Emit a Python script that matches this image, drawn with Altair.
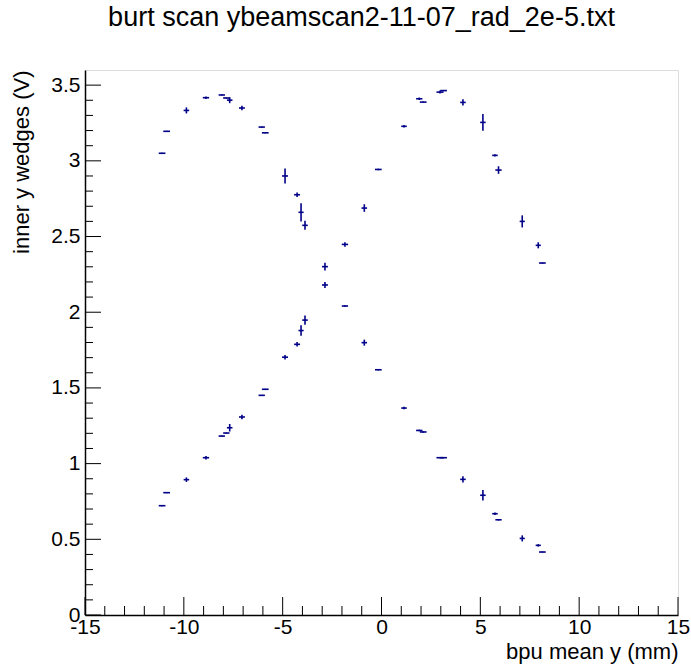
import altair as alt
import pandas as pd

# beam position (mm) shared by both wedge series
x_mm = [-11.10, -10.87, -9.87, -8.88, -8.08, -7.85, -7.68, -7.06, -6.06, -5.88,
        -4.88, -4.27, -4.07, -3.87, -2.86, -1.85, -0.87, -0.16, 1.14, 1.91,
        2.11, 2.96, 3.14, 4.12, 5.13, 5.74, 5.92, 7.12, 7.93, 8.14]
x_err = [0.17, 0.17, 0.14, 0.16, 0.16, 0.16, 0.14, 0.15, 0.16, 0.17,
         0.15, 0.15, 0.13, 0.14, 0.15, 0.16, 0.14, 0.17, 0.14, 0.16,
         0.17, 0.18, 0.17, 0.14, 0.14, 0.14, 0.16, 0.13, 0.13, 0.17]

# wedge voltage falling with position (upper left -> lower right)
falling_v = [3.050, 3.195, 3.333, 3.417, 3.435, 3.415, 3.401, 3.349, 3.223, 3.185,
             2.900, 2.776, 2.660, 2.574, 2.180, 2.041, 1.799, 1.620, 1.367, 1.219,
             1.209, 1.039, 1.039, 0.896, 0.791, 0.669, 0.629, 0.506, 0.460, 0.416]
falling_err = [0.003, 0.003, 0.020, 0.008, 0.003, 0.003, 0.020, 0.015, 0.003, 0.003,
               0.050, 0.015, 0.060, 0.030, 0.020, 0.005, 0.020, 0.005, 0.008, 0.005,
               0.005, 0.003, 0.003, 0.020, 0.035, 0.008, 0.005, 0.020, 0.008, 0.003]

# wedge voltage rising with position (lower left -> upper right)
rising_v = [0.722, 0.808, 0.894, 1.039, 1.182, 1.202, 1.237, 1.308, 1.451, 1.491,
            1.703, 1.788, 1.879, 1.948, 2.301, 2.448, 2.688, 2.943, 3.228, 3.410,
            3.388, 3.454, 3.464, 3.386, 3.254, 3.036, 2.939, 2.600, 2.442, 2.325]
rising_err = [0.003, 0.003, 0.015, 0.012, 0.003, 0.003, 0.025, 0.015, 0.003, 0.003,
              0.015, 0.015, 0.035, 0.030, 0.025, 0.015, 0.025, 0.005, 0.008, 0.008,
              0.003, 0.010, 0.003, 0.020, 0.055, 0.008, 0.025, 0.040, 0.020, 0.003]

x_major = [-15, -10, -5, 0, 5, 10, 15]
x_minor = [v for v in range(-14, 15) if v % 5 != 0]
y_major = [0, 0.5, 1, 1.5, 2, 2.5, 3, 3.5]
y_minor = [round(i * 0.1, 1) for i in range(1, 36) if i % 5 != 0]

W, H = 593, 545
COLOR = "#000088"
FONT = "Liberation Sans"

rows = []
for name, vals, errs in (("falling", falling_v, falling_err), ("rising", rising_v, rising_err)):
    for x, xe, y, ye in zip(x_mm, x_err, vals, errs):
        rows.append(dict(series=name, x=x, xlo=x - xe, xhi=x + xe, y=y, ylo=y - ye, yhi=y + ye))
df = pd.DataFrame(rows)

xscale = alt.Scale(domain=[-15, 15], nice=False, zero=False)
yscale = alt.Scale(domain=[0, 3.6], nice=False, zero=False)

xaxis = alt.Axis(values=x_major, ticks=False, grid=False, format="~g",
                 labelExpr="replace(datum.label, '\u2212', '-')",
                 labelFlush=False, labelOverlap=False, labelBound=False,
                 labelFont=FONT, labelFontSize=21, labelColor="black", labelPadding=1,
                 domainColor="black", domainWidth=1.5,
                 title="bpu mean y (mm)", titleFont=FONT, titleFontSize=22, titleFontWeight="normal",
                 titleColor="black", titleAnchor="end", titlePadding=4)
yaxis = alt.Axis(values=y_major, ticks=False, grid=False, format="~g",
                 labelFlush=False, labelOverlap=False, labelBound=False,
                 labelFont=FONT, labelFontSize=21, labelColor="black", labelPadding=5,
                 domainColor="black", domainWidth=1.5,
                 title="inner y wedges (V)", titleFont=FONT, titleFontSize=22, titleFontWeight="normal",
                 titleColor="black", titleAnchor="end", titlePadding=17)

base = alt.Chart(df)
xerr_bars = base.mark_rule(color=COLOR, strokeWidth=1.6).encode(
    x=alt.X("xlo:Q", scale=xscale, axis=xaxis),
    x2="xhi:Q",
    y=alt.Y("y:Q", scale=yscale, axis=yaxis),
)
yerr_bars = base.mark_rule(color=COLOR, strokeWidth=1.6).encode(
    x=alt.X("x:Q", scale=xscale, axis=xaxis),
    y=alt.Y("ylo:Q", scale=yscale, axis=yaxis),
    y2="yhi:Q",
)

def xticks(vals, length):
    return alt.Chart(pd.DataFrame({"v": vals})).mark_rule(color="black", strokeWidth=1).encode(
        x=alt.X("v:Q", scale=xscale, axis=xaxis), y=alt.value(H), y2=alt.value(H - length))

def yticks(vals, length):
    return alt.Chart(pd.DataFrame({"v": vals})).mark_rule(color="black", strokeWidth=1).encode(
        y=alt.Y("v:Q", scale=yscale, axis=yaxis), x=alt.value(0), x2=alt.value(length))

chart = alt.layer(
    xerr_bars, yerr_bars,
    xticks(x_major, 18), xticks(x_minor, 9),
    yticks(y_major, 16), yticks(y_minor, 8),
).properties(
    width=W, height=H,
    padding={"left": 85, "top": 70, "right": 13, "bottom": 51},
    autosize=alt.AutoSizeParams(type="none"),
    title=alt.Title("burt scan ybeamscan2-11-07_rad_2e-5.txt", font=FONT, fontSize=27,
                    fontWeight="normal", color="black", anchor="middle", dx=-20,
                    baseline="bottom", offset=11),
).configure_view(stroke="black", strokeWidth=1).configure(background="white")

chart.save("out.html", embed_options={"renderer": "svg", "actions": False})
